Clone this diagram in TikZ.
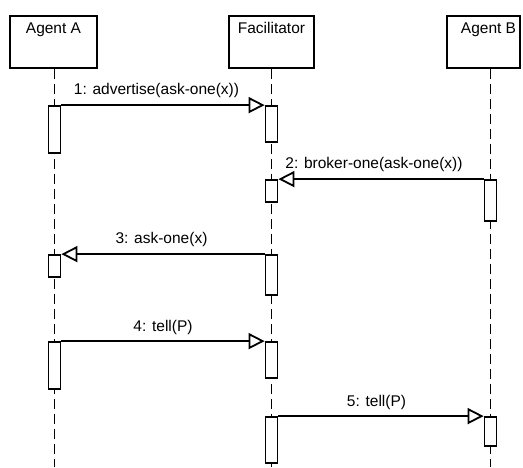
\documentclass[tikz,border=0pt]{standalone}
\usepackage{fontspec}
\setmainfont{Liberation Sans}
\usetikzlibrary{arrows.meta}
\begin{document}
\begin{tikzpicture}[x=1pt,y=-1pt,
  hdr/.style={draw, line width=1.8pt, fill=white, minimum height=52pt, inner sep=0pt},
  hdrtext/.style={font=\fontsize{15.5}{18}\selectfont, anchor=base, inner sep=0pt},
  lifeline/.style={line width=1.8pt, dash pattern=on 10pt off 5pt},
  act/.style={draw, line width=1.8pt, fill=white, minimum width=12pt, inner sep=0pt},
  msg/.style={line width=1.8pt, -{Triangle[length=16pt, width=16pt, fill=white, line width=1.8pt]}},
  lbl/.style={font=\fontsize{15.5}{18}\selectfont, anchor=base, inner sep=0pt}]
  % canvas
  \useasboundingbox (0,0) rectangle (523,467);
  \fill[white] (0,0) rectangle (523,467);

  % lifeline positions at the bottom edge
  \coordinate (lA) at (54.5,467);
  \coordinate (lF) at (271.5,467);
  \coordinate (lB) at (490.5,467);

  % participant boxes
  \node[hdr, minimum width=87pt] (hA) at (53.5,42) {};
  \node[hdr, minimum width=85pt] (hF) at (271.5,42) {};
  \node[hdr, minimum width=73pt] (hB) at (483.5,42) {};
  \node[hdrtext] (nA) at (53.5,33) {Agent A};
  \node[hdrtext] (nF) at (271.5,33) {Facilitator};
  \node[hdrtext] (nB) at (488.5,33) {Agent B};

  % lifelines
  \draw[lifeline] (hA.south -| lA) -- (lA);
  \draw[lifeline] (hF.south -| lF) -- (lF);
  \draw[lifeline] (hB.south -| lB) -- (lB);

  % activation bars
  \node[act, minimum height=47pt] (a1) at (54.5,129.5) {};
  \node[act, minimum height=36pt] (f1) at (271.5,124) {};
  \node[act, minimum height=22pt] (f2) at (271.5,191) {};
  \node[act, minimum height=41pt] (b2) at (490.5,200.5) {};
  \node[act, minimum height=40pt] (f3) at (271.5,275) {};
  \node[act, minimum height=22pt] (a3) at (54.5,266) {};
  \node[act, minimum height=47pt] (a4) at (54.5,365.5) {};
  \node[act, minimum height=36pt] (f4) at (271.5,360) {};
  \node[act, minimum height=46pt] (f5) at (271.5,440) {};
  \node[act, minimum height=29pt] (b5) at (490.5,431.5) {};

  % messages
  \draw[msg] (a1.north east) -- (f1.north west);
  \draw[msg] (b2.north west) -- (f2.north east);
  \draw[msg] (f3.north west) -- (a3.north east);
  \draw[msg] (a4.north east) -- (f4.north west);
  \draw[msg] (f5.north east) -- (b5.north west);

  % message labels
  \node[lbl] (m1) at (156.5,94) {1: advertise(ask-one(x))};
  \node[lbl] (m2) at (374,168) {2: broker-one(ask-one(x))};
  \node[lbl] (m3) at (161.5,243) {3: ask-one(x)};
  \node[lbl] (m4) at (163,331) {4: tell(P)};
  \node[lbl] (m5) at (376.5,406) {5: tell(P)};
\end{tikzpicture}
\end{document}
